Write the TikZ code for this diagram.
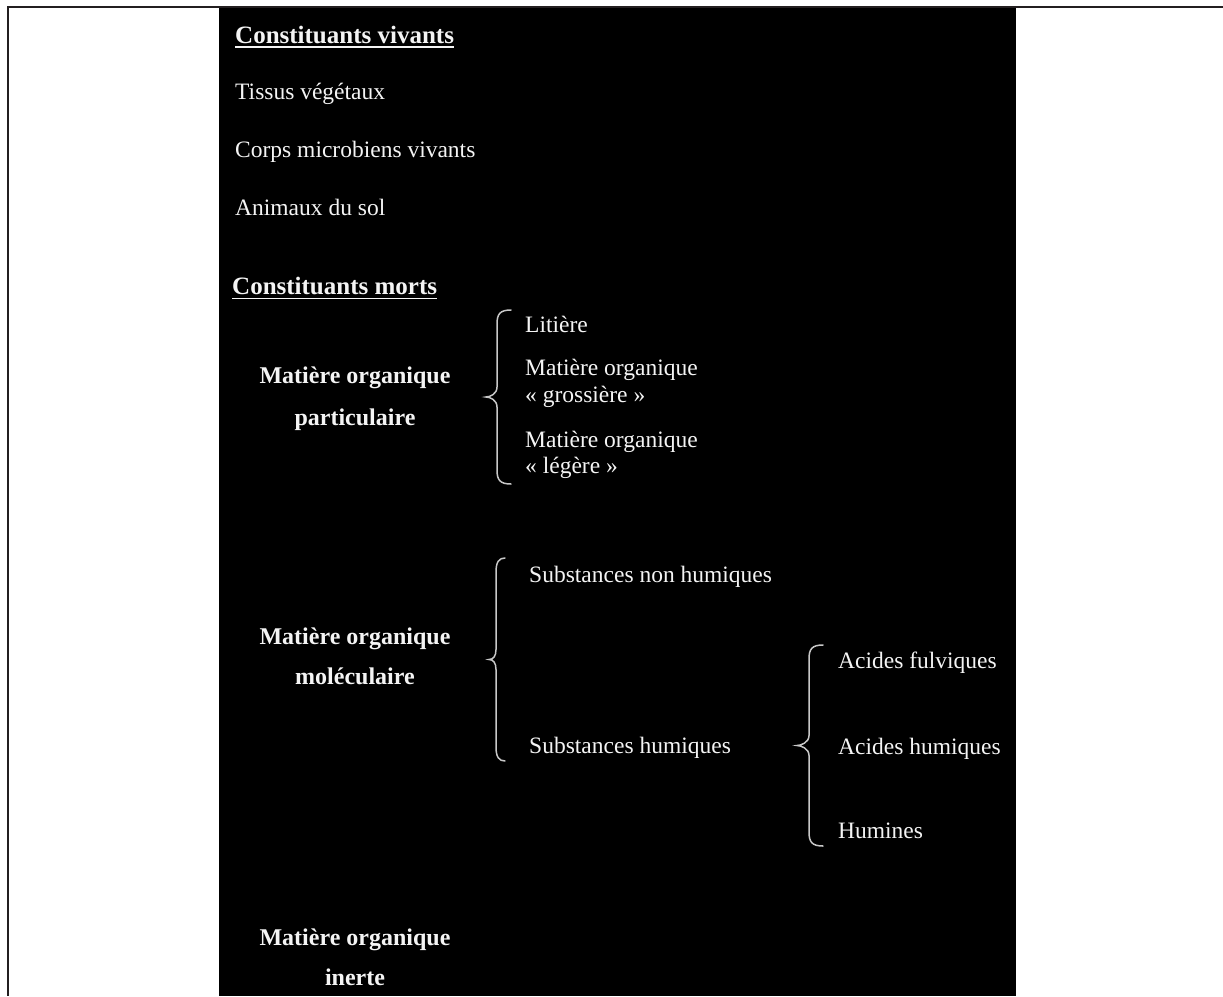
\documentclass[tikz,border=0pt]{standalone}
\usepackage{fontspec}
\setmainfont{Liberation Serif}
\definecolor{txtc}{HTML}{F4F4F4}
\definecolor{brc}{HTML}{C8C8C8}
\definecolor{framec}{HTML}{231F20}
\newcommand\mybrace[5]{% tip x, stem x, end x, top y, bottom y
  \draw[bracestyle] (#3,#4) .. controls ({#2+3},#4) and (#2,{#4+4}) .. (#2,{#4+14})
    -- (#2,{(#4+#5)/2-10}) .. controls (#2,{(#4+#5)/2-3}) and ({#1+4},{(#4+#5)/2}) .. (#1,{(#4+#5)/2})
    .. controls ({#1+4},{(#4+#5)/2}) and (#2,{(#4+#5)/2+3}) .. (#2,{(#4+#5)/2+10})
    -- (#2,{#5-14}) .. controls (#2,{#5-4}) and ({#2+3},#5) .. (#3,#5);}
\begin{document}
\begin{tikzpicture}[x=1pt,y=-1pt,
  txt/.style={text=txtc, font=\fontsize{23.5}{27}\selectfont, inner sep=0pt, anchor=base west},
  hdr/.style={txt, font=\bfseries\fontsize{25}{30}\selectfont},
  cat/.style={txt, anchor=base, font=\bfseries\fontsize{24}{30}\selectfont},
  ul/.style={draw=txtc, line width=1.6pt},
  bracestyle/.style={draw=brc, line width=1.5pt, line cap=round}]
\useasboundingbox (0,0) rectangle (1223,996);
\fill[white] (0,0) rectangle (1223,996);
\fill[black] (219,8) rectangle (1016,996);
\draw[framec, line width=2pt] (7,7) -- (1223,7);
\draw[framec, line width=1.6pt] (8,6) -- (8,996);

% living constituents
\node[hdr] (h1) at (235,43) {Constituants vivants};
\draw[ul] ([yshift=-4pt]h1.base west) -- ([yshift=-4pt]h1.base east);
\node[txt] (l1) at (235,99) {Tissus végétaux};
\node[txt] (l2) at (235,157) {Corps microbiens vivants};
\node[txt] (l3) at (235,215) {Animaux du sol};

% dead constituents
\node[hdr] (h2) at (232,294) {Constituants morts};
\draw[ul] ([yshift=-4.5pt]h2.base west) -- ([yshift=-4.5pt]h2.base east);

% particulate
\node[cat] (p1) at (355,383) {Matière organique};
\node[cat] (p2) at (355,425) {particulaire};
\mybrace{486}{497}{511}{310}{484}
\node[txt] (pa) at (525,332) {Litière};
\node[txt] (pb1) at (525,375) {Matière organique};
\node[txt] (pb2) at (525,402) {« grossière »};
\node[txt] (pc1) at (525,447) {Matière organique};
\node[txt] (pc2) at (525,473) {« légère »};

% molecular
\node[cat] (m1) at (355,644) {Matière organique};
\node[cat] (m2) at (355,684) {moléculaire};
\mybrace{489}{496}{505}{558}{761}
\node[txt] (ma) at (529,582) {Substances non humiques};
\node[txt] (mb) at (529,753) {Substances humiques};
\mybrace{797}{809}{823}{645}{846}
\node[txt] (f1) at (838,668) {Acides fulviques};
\node[txt] (f2) at (838,754) {Acides humiques};
\node[txt] (f3) at (838,838) {Humines};

% inert
\node[cat] (i1) at (355,945) {Matière organique};
\node[cat] (i2) at (355,985) {inerte};
\end{tikzpicture}
\end{document}
